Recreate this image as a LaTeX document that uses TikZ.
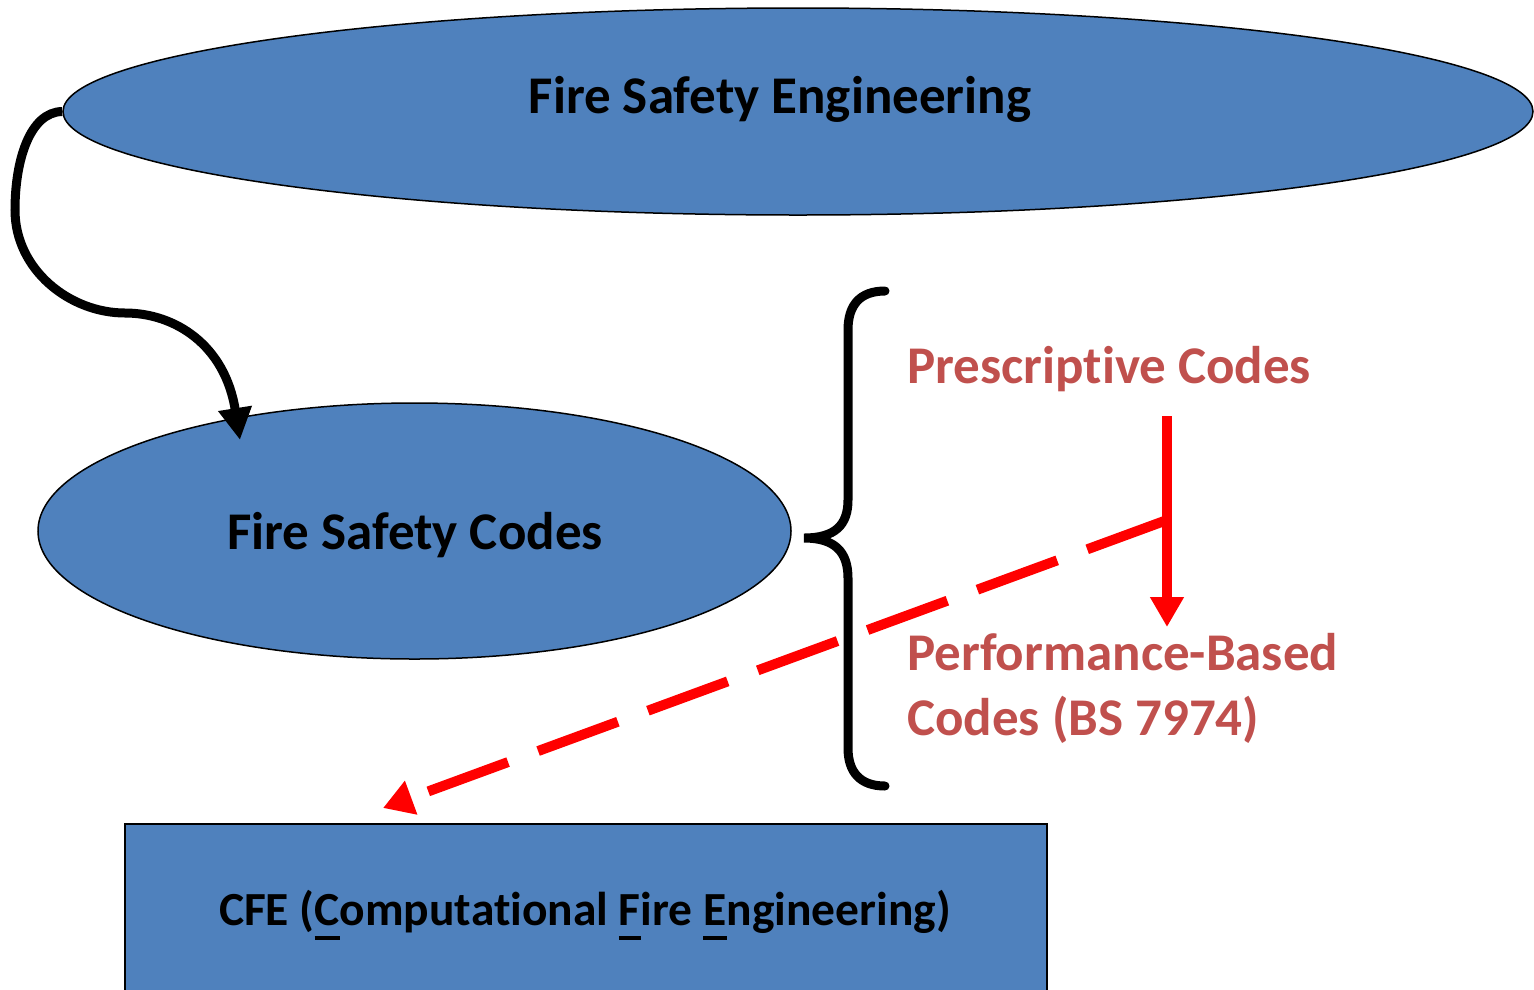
\documentclass[tikz,border=0pt]{standalone}
\usepackage{fontspec}
\setmainfont{Carlito}[Ligatures=NoCommon]
\usetikzlibrary{shapes.geometric,arrows.meta}
\definecolor{boxblue}{HTML}{4F81BD}
\definecolor{codered}{HTML}{C0504D}
\definecolor{linkred}{HTML}{FF0000}
% heavy underline for the acronym letters
\newcommand\acrul[1]{\setbox0\hbox{#1}\rlap{\raisebox{-15pt}{\rule{\wd0}{4pt}}}#1}
\tikzset{
  blob/.style={ellipse, draw=black, line width=1.5pt, fill=boxblue, inner sep=0pt},
  bigtitle/.style={font=\bfseries\fontsize{53}{60}\selectfont, text=black, inner sep=0pt},
  codetext/.style={font=\bfseries\fontsize{53}{65}\selectfont, text=codered, inner sep=0pt, align=left},
  cfebox/.style={rectangle, draw=black, line width=1.5pt, fill=boxblue, inner sep=0pt},
  cfefont/.style={font=\bfseries\fontsize{47.5}{54}\selectfont, text=black, inner sep=0pt},
  flow/.style={line width=9pt, -{Triangle[length=32pt,width=32pt]}},
  redlink/.style={draw=linkred, line width=10pt},
}
\begin{document}
\begin{tikzpicture}[x=1pt,y=-1pt]
\useasboundingbox (0,0) rectangle (1534,989);

% top ellipse and its title
\node[blob, minimum width=1470pt, minimum height=207pt] (fse) at (798,111.5) {};
\node[bigtitle, anchor=base] (fsetext) at (780,113) {Fire Safety Engineering};

% middle ellipse
\node[blob, minimum width=753pt, minimum height=256pt] (fsc) at (414.5,531) {};
\node[bigtitle, anchor=base] (fsctext) at (415,549) {Fire Safety Codes};

% bottom box
\node[cfebox, minimum width=922pt, minimum height=172pt] (cfe) at (586,910) {};
\node[cfefont, anchor=base] (cfetext) at (585,925)
  {CFE (\acrul{C}omputational \acrul{F}ire \acrul{E}ngineering)};

% curved arrow from the top ellipse to the middle one
\draw[flow] (fse.west) .. controls (30,112) and (15,160) .. (15,210)
  .. controls (15,270) and (70,313) .. (125,313)
  .. controls (175,313) and (225,345) .. (fsc.north west -| 240,405);

% curly brace
\coordinate (btop) at (885,291);
\coordinate (btip) at (804,538);
\coordinate (bbot) at (885,786);
\draw[line width=9pt, line cap=round] (btop) .. controls (860,291) and (848,305) .. (848,330)
  -- (848,500) .. controls (848,525) and (835,538) .. (btip)
  .. controls (835,538) and (848,552) .. (848,578)
  -- (848,748) .. controls (848,772) and (860,786) .. (bbot);

% code types
\node[codetext, anchor=base west] (presc) at (907,383) {Prescriptive Codes};
\node[codetext, anchor=base west] (perf) at (907,670) {Performance-Based};
\node[codetext, anchor=base west] (perf2) at (907,735) {Codes (BS 7974)};

% red transition arrow and dashed link to CFE
\coordinate (rtop) at (1167,416);
\coordinate (rtip) at (1167,627);
\coordinate (junction) at (1167,520);
\coordinate (dtip) at (383,808);
\draw[redlink, -{Triangle[length=30pt,width=32pt]}] (rtop) -- (rtip);
\draw[redlink, dash pattern=on 85pt off 32pt, -{Triangle[length=30pt,width=34pt]}] (junction) -- (dtip);
\end{tikzpicture}
\end{document}
